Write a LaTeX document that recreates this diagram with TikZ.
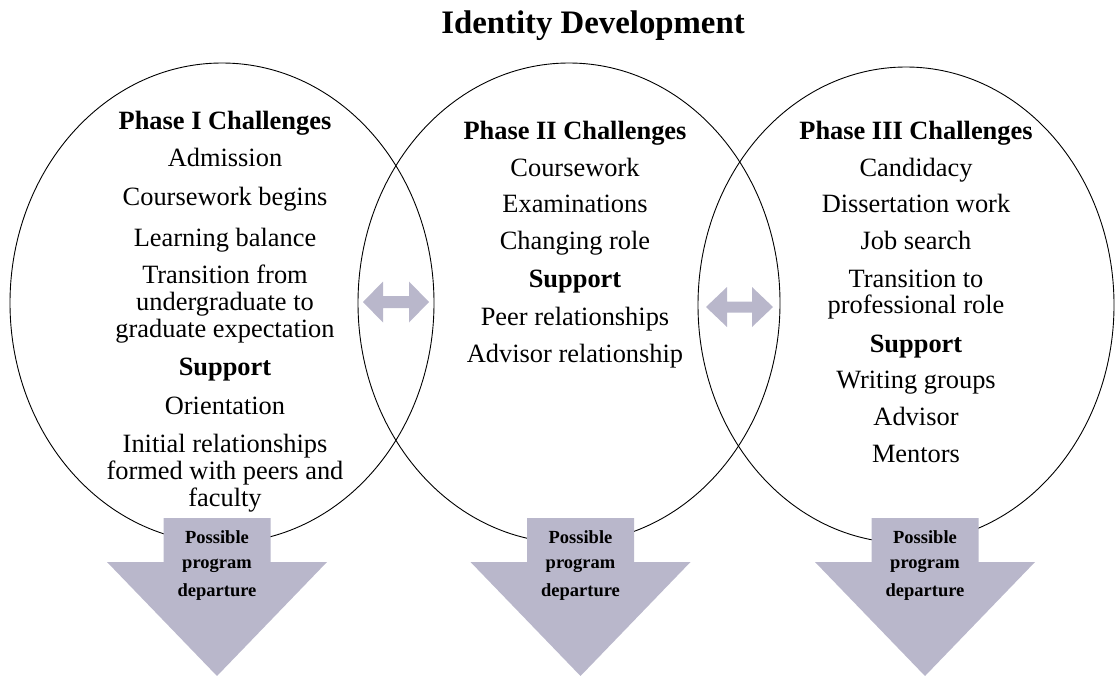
\documentclass[tikz,border=0pt]{standalone}
\usepackage{fontspec}
\setmainfont{Liberation Serif}
\definecolor{arrowfill}{RGB}{185,183,203}
\newcommand\DepArrow[1]{%
  \fill[bigarrow] ({#1-53.5},518) -- ({#1+53.5},518) -- ({#1+53.5},562) -- ({#1+110},562)
    -- (#1,676) -- ({#1-110},562) -- ({#1-53.5},562) -- cycle;}
\begin{document}
\begin{tikzpicture}[x=1pt,y=-1pt,
  ln/.style={anchor=base, inner sep=0pt, font=\fontsize{26.4}{26.7}\selectfont},
  hd/.style={anchor=base, inner sep=0pt, font=\fontsize{26.4}{26.7}\selectfont\bfseries},
  ttl/.style={anchor=base, inner sep=0pt, font=\fontsize{32.8}{34}\selectfont\bfseries},
  pd/.style={anchor=base, inner sep=0pt, font=\fontsize{18.5}{20}\selectfont\bfseries},
  ring/.style={draw=black, line width=0.9pt},
  bigarrow/.style={fill=arrowfill, draw=none}]
\useasboundingbox (0,0) rectangle (1115,676);

% title
\node[ttl] (title) at (593,34) {Identity Development};

% ellipses
\draw[ring] (222,303) ellipse [x radius=212, y radius=240];
\draw[ring] (569,303) ellipse [x radius=211, y radius=240];
\draw[ring] (906,305) ellipse [x radius=208, y radius=238];

% double arrows
\fill[bigarrow] (363,302) -- (383,281.5) -- (383,296) -- (409,296) -- (409,281.5) -- (429,302)
  -- (409,322.5) -- (409,308) -- (383,308) -- (383,322.5) -- cycle;
\fill[bigarrow] (706,307) -- (727,287) -- (727,301.5) -- (752,301.5) -- (752,287) -- (773,307)
  -- (752,327) -- (752,312.5) -- (727,312.5) -- (727,327) -- cycle;

% departure arrows
\DepArrow{217}
\DepArrow{580.5}
\DepArrow{925}

% phase I
\node[hd] (p1h) at (225,130) {Phase I Challenges};
\node[ln] (p1a) at (225,167) {Admission};
\node[ln] (p1b) at (225,206) {Coursework begins};
\node[ln] (p1c) at (225,246) {Learning balance};
\node[ln] (p1d) at (225,283) {Transition from};
\node[ln] (p1e) at (225,310) {undergraduate to};
\node[ln] (p1f) at (225,337) {graduate expectation};
\node[hd] (p1s) at (225,375) {Support};
\node[ln] (p1g) at (225,414) {Orientation};
\node[ln] (p1h2) at (225,452) {Initial relationships};
\node[ln] (p1i) at (225,479) {formed with peers and};
\node[ln] (p1j) at (225,506) {faculty};

% phase II
\node[hd] (p2h) at (575,140) {Phase II Challenges};
\node[ln] (p2a) at (575,177) {Coursework};
\node[ln] (p2b) at (575,213) {Examinations};
\node[ln] (p2c) at (575,250) {Changing role};
\node[hd] (p2s) at (575,287) {Support};
\node[ln] (p2d) at (575,325) {Peer relationships};
\node[ln] (p2e) at (575,362) {Advisor relationship};

% phase III
\node[hd] (p3h) at (916,140) {Phase III Challenges};
\node[ln] (p3a) at (916,177) {Candidacy};
\node[ln] (p3b) at (916,213) {Dissertation work};
\node[ln] (p3c) at (916,250) {Job search};
\node[ln] (p3d) at (916,287) {Transition to};
\node[ln] (p3e) at (916,313) {professional role};
\node[hd] (p3s) at (916,352) {Support};
\node[ln] (p3f) at (916,388) {Writing groups};
\node[ln] (p3g) at (916,425) {Advisor};
\node[ln] (p3i) at (916,462) {Mentors};

% departure labels
\node[pd] (d1a) at (217,543) {Possible};
\node[pd] (d1b) at (217,568) {program};
\node[pd] (d1c) at (217,596) {departure};
\node[pd] (d2a) at (580.5,543) {Possible};
\node[pd] (d2b) at (580.5,568) {program};
\node[pd] (d2c) at (580.5,596) {departure};
\node[pd] (d3a) at (925,543) {Possible};
\node[pd] (d3b) at (925,568) {program};
\node[pd] (d3c) at (925,596) {departure};
\end{tikzpicture}
\end{document}
